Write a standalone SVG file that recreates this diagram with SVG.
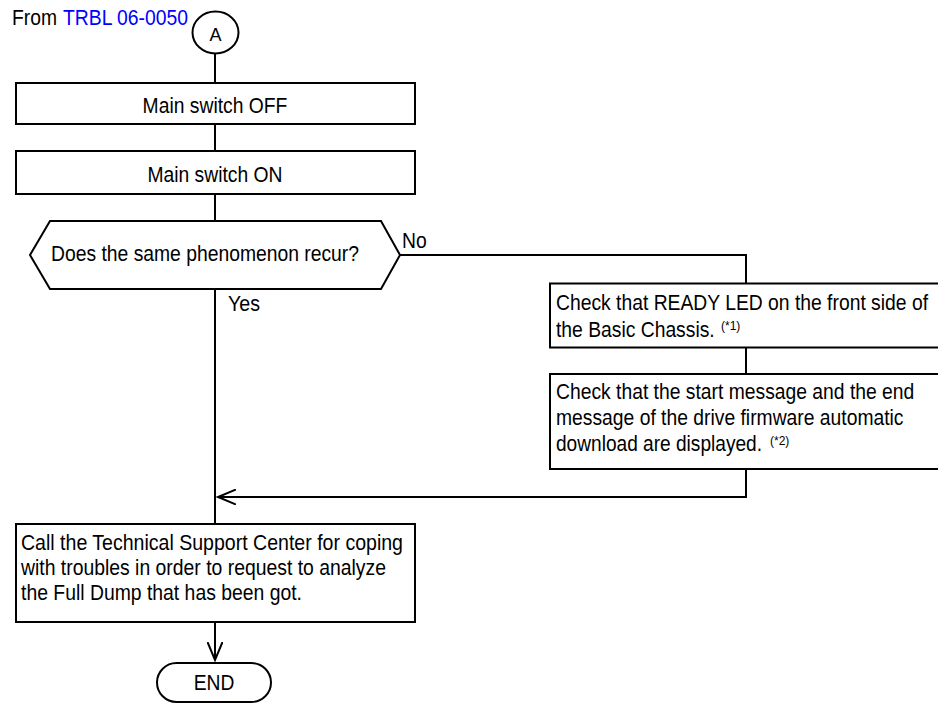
<svg xmlns="http://www.w3.org/2000/svg" width="938" height="704" viewBox="0 0 938 704">
<style>
  .box { fill: #ffffff; stroke: #000000; stroke-width: 2; }
  .line { fill: none; stroke: #000000; stroke-width: 2; }
  text { font-family: "Liberation Sans", Arial, sans-serif; font-size: 22px; fill: #000000; }
  .c { text-anchor: middle; }
  .sup { font-size: 12px; }
  .link { fill: #0000ff; }
</style>
<defs>
  <marker id="arr" viewBox="0 0 20 16" refX="18" refY="8" markerWidth="20" markerHeight="16" markerUnits="userSpaceOnUse" orient="auto">
    <path d="M0,0.5 L18,8 L0,15.5" fill="none" stroke="#000000" stroke-width="2"/>
  </marker>
</defs>
<rect x="0" y="0" width="938" height="704" fill="#ffffff"/>

<g id="connectors">
  <path class="line" d="M215,53 L215,83"/>
  <path class="line" d="M215,124 L215,151"/>
  <path class="line" d="M215,194 L215,221"/>
  <path class="line" d="M215,289 L215,524"/>
  <path class="line" d="M400,255 L746,255 L746,283.5"/>
  <path class="line" d="M746,347.5 L746,374"/>
  <path class="line" d="M746,469 L746,497 L218,497" marker-end="url(#arr)"/>
  <path class="line" d="M215,622 L215,660" marker-end="url(#arr)"/>
  <text x="402" y="248" textLength="24.7" lengthAdjust="spacingAndGlyphs">No</text>
  <text x="228" y="311" textLength="32" lengthAdjust="spacingAndGlyphs">Yes</text>
</g>

<g id="from-label">
  <text x="12" y="25" textLength="45" lengthAdjust="spacingAndGlyphs">From</text>
  <text class="link" x="63" y="25" textLength="125" lengthAdjust="spacingAndGlyphs">TRBL 06-0050</text>
</g>

<g id="connector-A">
  <ellipse cx="215.5" cy="32.5" rx="23" ry="21" class="box"/>
  <text class="c" x="215.5" y="40.5" style="font-size:18px">A</text>
</g>

<g id="main-switch-off">
  <rect class="box" x="16" y="83" width="399" height="41"/>
  <text class="c" x="215" y="113" textLength="144.8" lengthAdjust="spacingAndGlyphs">Main switch OFF</text>
</g>

<g id="main-switch-on">
  <rect class="box" x="16" y="151" width="399" height="43"/>
  <text class="c" x="215" y="181.5" textLength="135.1" lengthAdjust="spacingAndGlyphs">Main switch ON</text>
</g>

<g id="decision">
  <polygon class="box" points="30,255 50,221 381,221 400,255 381,289 50,289"/>
  <text x="51" y="261" textLength="308" lengthAdjust="spacingAndGlyphs">Does the same phenomenon recur?</text>
</g>

<g id="check-ready-led">
  <rect class="box" x="550" y="283.5" width="400" height="64"/>
  <text x="556" y="310" textLength="372" lengthAdjust="spacingAndGlyphs">Check that READY LED on the front side of</text>
  <text x="556" y="336.5" textLength="158.7" lengthAdjust="spacingAndGlyphs">the Basic Chassis.</text>
  <text class="sup" x="721" y="330">(*1)</text>
</g>

<g id="check-firmware-messages">
  <rect class="box" x="550" y="374" width="400" height="95"/>
  <text x="556" y="399" textLength="358.3" lengthAdjust="spacingAndGlyphs">Check that the start message and the end</text>
  <text x="556" y="425" textLength="347.5" lengthAdjust="spacingAndGlyphs">message of the drive firmware automatic</text>
  <text x="556" y="451" textLength="206" lengthAdjust="spacingAndGlyphs">download are displayed.</text>
  <text class="sup" x="770" y="445">(*2)</text>
</g>

<g id="call-support">
  <rect class="box" x="16" y="524" width="399" height="98"/>
  <text x="21" y="550" textLength="382" lengthAdjust="spacingAndGlyphs">Call the Technical Support Center for coping</text>
  <text x="21" y="575" textLength="365" lengthAdjust="spacingAndGlyphs">with troubles in order to request to analyze</text>
  <text x="21" y="600" textLength="281" lengthAdjust="spacingAndGlyphs">the Full Dump that has been got.</text>
</g>

<g id="end">
  <rect class="box" x="157" y="663" width="114" height="39" rx="19.5" ry="19.5"/>
  <text class="c" x="214" y="690" textLength="40.7" lengthAdjust="spacingAndGlyphs">END</text>
</g>
</svg>
